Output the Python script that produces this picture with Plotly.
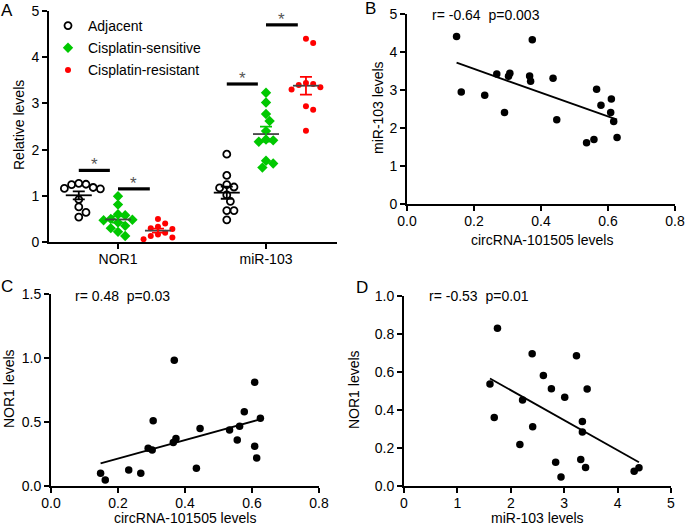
import numpy as np
import plotly.graph_objects as go

# ---- panel A : relative levels (dot plot, mean +/- SEM)
categories = ["NOR1", "miR-103"]
groups = ["Adjacent", "Cisplatin-sensitive", "Cisplatin-resistant"]

nor1_adjacent = [1.27, 1.25, 1.24, 1.18, 1.16, 1.15, 0.92, 0.76, 0.64, 0.54]
nor1_sensitive = [0.99, 0.81, 0.60, 0.58, 0.50, 0.48, 0.47, 0.42, 0.35, 0.30, 0.22, 0.13]
nor1_resistant = [0.50, 0.40, 0.33, 0.30, 0.28, 0.20, 0.16, 0.13, 0.10, 0.06]

mir_adjacent = [1.90, 1.44, 1.24, 1.19, 1.17, 1.02, 0.88, 0.68, 0.68, 0.48]
mir_sensitive = [3.23, 3.02, 2.77, 2.62, 2.40, 2.22, 2.20, 2.17, 1.76, 1.70, 1.61]
mir_resistant = [4.40, 4.31, 3.44, 3.42, 3.40, 3.35, 3.30, 2.94, 2.86, 2.41]

# significance bars: (category, left group, right group, height)
sig_bars = [(0, 0, 1, 1.55), (0, 1, 2, 1.15), (1, 0, 1, 3.42), (1, 1, 2, 4.70)]

# ---- panels B-D : correlations (same tumour samples)
circ_levels = [0.148, 0.162, 0.232, 0.268, 0.291, 0.303, 0.307, 0.366, 0.369, 0.374,
               0.436, 0.447, 0.536, 0.558, 0.566, 0.579, 0.610, 0.608, 0.617, 0.627]
mir_levels_b = [4.41, 2.95, 2.86, 3.42, 2.41, 3.36, 3.44, 3.37, 3.23, 4.32,
                3.31, 2.22, 1.61, 1.70, 3.02, 2.60, 2.76, 2.41, 2.17, 1.75]

circ_levels_c = [0.148, 0.162, 0.232, 0.268, 0.290, 0.302, 0.305, 0.365, 0.373, 0.368,
                 0.434, 0.445, 0.533, 0.556, 0.563, 0.577, 0.608, 0.608, 0.614, 0.625]
nor1_levels_c = [0.099, 0.047, 0.125, 0.099, 0.294, 0.281, 0.510, 0.339, 0.372, 0.982,
                 0.138, 0.450, 0.438, 0.359, 0.466, 0.581, 0.310, 0.810, 0.219, 0.529]

mir_levels_d = [1.61, 1.69, 1.75, 2.17, 2.22, 2.40, 2.41, 2.61, 2.76, 2.84,
                2.94, 3.01, 3.23, 3.31, 3.34, 3.34, 3.40, 3.43, 4.31, 4.40]
nor1_levels_d = [0.537, 0.361, 0.830, 0.219, 0.453, 0.696, 0.312, 0.582, 0.512, 0.125,
                 0.047, 0.467, 0.686, 0.139, 0.339, 0.284, 0.098, 0.511, 0.077, 0.096]

stats_text = ["r= -0.64  p=0.003", "r= 0.48  p=0.03", "r= -0.53  p=0.01"]
axis_titles = ["Relative levels", "circRNA-101505 levels", "miR-103 levels",
               "circRNA-101505 levels", "NOR1 levels", "miR-103 levels", "NOR1 levels"]

FONT = "Liberation Sans, Arial, sans-serif"
W, H = 685, 525
colors = ["black", "#00C800", "#FF0000"]
symbols = ["circle-open", "diamond", "circle"]
msizes = [7, 8, 6]
group_off = [-0.265, 0, 0.27]

# pixel scale of panel A (for the swarm layout)
ax_a = [49, 337, 11, 242]
XPX = 148.0
xrange_a = [1 - (118 - ax_a[0]) / XPX, 2 + (ax_a[1] - 266) / XPX]
YPX = (ax_a[3] - ax_a[2]) / 5.0


def swarm(vals, xc, d=7.2):
    placed = []
    xs = [0.0] * len(vals)
    order = sorted(range(len(vals)), key=lambda i: -vals[i])
    for i in order:
        ypx = vals[i] * YPX
        for k in range(0, 20):
            cands = [0.0] if k == 0 else [k * d / 2, -k * d / 2]
            hit = None
            for off in cands:
                if all((off - po) ** 2 + (ypx - py) ** 2 >= d * d for po, py in placed):
                    hit = off
                    break
            if hit is not None:
                break
        placed.append((hit, ypx))
        xs[i] = xc + hit / XPX
    return xs


def dom(x0, x1, y0, y1):
    return [x0 / W, x1 / W], [1 - y1 / H, 1 - y0 / H]


fig = go.Figure()

data_a = [[nor1_adjacent, mir_adjacent], [nor1_sensitive, mir_sensitive], [nor1_resistant, mir_resistant]]
for g in range(3):
    xs, ys = [], []
    for c in range(2):
        vals = data_a[g][c]
        xs += swarm(vals, c + 1 + group_off[g])
        ys += vals
    fig.add_trace(go.Scatter(
        x=xs, y=ys, mode="markers", name=groups[g], legendgroup=groups[g],
        marker=dict(symbol=symbols[g], size=msizes[g], color=colors[g],
                    line=dict(width=1.8 if g == 0 else 0, color=colors[g])),
        xaxis="x", yaxis="y"))

# mean lines and SEM bars
for g in range(3):
    for c in range(2):
        vals = np.array(data_a[g][c])
        m = vals.mean()
        sem = vals.std(ddof=1) / np.sqrt(len(vals))
        xc = c + 1 + group_off[g]
        hw = 13 / XPX
        fig.add_trace(go.Scatter(
            x=[xc - hw, xc + hw], y=[m, m], mode="lines", showlegend=False,
            line=dict(color="black" if g == 0 else "#444444", width=1.8),
            xaxis="x", yaxis="y", hoverinfo="skip"))
        fig.add_trace(go.Scatter(
            x=[xc], y=[m], mode="markers", showlegend=False,
            marker=dict(size=1, color="rgba(0,0,0,0)"),
            error_y=dict(type="data", array=[sem], color=colors[g], thickness=1.8, width=6),
            xaxis="x", yaxis="y", hoverinfo="skip"))

annotations = []
for c, g0, g1, h in sig_bars:
    x0 = c + 1 + group_off[g0] + 0.0
    x1 = c + 1 + group_off[g1] - 0.055
    fig.add_trace(go.Scatter(
        x=[x0, x1], y=[h, h], mode="lines", showlegend=False,
        line=dict(color="black", width=3.2), xaxis="x", yaxis="y", hoverinfo="skip"))
    annotations.append(dict(x=(x0 + x1) / 2, y=h, xref="x", yref="y", text="*",
                            showarrow=False, yanchor="bottom", yshift=-6,
                            font=dict(size=17, color="#555555", family=FONT)))

# correlation panels
corr = [("x2", "y2", circ_levels, mir_levels_b),
        ("x3", "y3", circ_levels_c, nor1_levels_c),
        ("x4", "y4", mir_levels_d, nor1_levels_d)]
for (xa, ya, xv, yv), txt in zip(corr, stats_text):
    fig.add_trace(go.Scatter(
        x=xv, y=yv, mode="markers", showlegend=False,
        marker=dict(size=7.5, color="black"), xaxis=xa, yaxis=ya))
    k, b = np.polyfit(xv, yv, 1)
    xl = np.array([min(xv), max(xv)])
    fig.add_trace(go.Scatter(
        x=xl, y=k * xl + b, mode="lines", showlegend=False,
        line=dict(color="black", width=1.8), xaxis=xa, yaxis=ya, hoverinfo="skip"))

axis_common = dict(showline=True, linecolor="black", linewidth=1.8, ticks="outside",
                   ticklen=5, tickwidth=1.8, tickcolor="black", showgrid=False,
                   zeroline=False, automargin=False,
                   tickfont=dict(size=14, color="black", family=FONT))
xcommon = dict(axis_common, ticklabelstandoff=-2)

da = dom(ax_a[0], ax_a[1], ax_a[2], ax_a[3])
db = dom(407, 675, 14, 204)
dc = dom(51, 319, 294, 486)
dd = dom(404, 671, 296, 486)

fig.update_layout(
    width=W, height=H, margin=dict(l=0, r=0, t=0, b=0),
    plot_bgcolor="white", paper_bgcolor="white",
    font=dict(family=FONT, size=14, color="black"),
    xaxis=dict(xcommon, domain=da[0], range=xrange_a, tickvals=[1, 2],
               ticktext=categories, anchor="y"),
    yaxis=dict(axis_common, domain=da[1], range=[0, 5], dtick=1, anchor="x"),
    xaxis2=dict(xcommon, domain=db[0], range=[0, 0.8], dtick=0.2, tickformat=".1f", anchor="y2"),
    yaxis2=dict(axis_common, domain=db[1], range=[0, 5], dtick=1, anchor="x2"),
    xaxis3=dict(xcommon, domain=dc[0], range=[0, 0.8], dtick=0.2, tickformat=".1f", anchor="y3"),
    yaxis3=dict(axis_common, domain=dc[1], range=[0, 1.5], dtick=0.5, tickformat=".1f", anchor="x3"),
    xaxis4=dict(xcommon, domain=dd[0], range=[0, 5], dtick=1, anchor="y4"),
    yaxis4=dict(axis_common, domain=dd[1], range=[0, 1.0], dtick=0.2, tickformat=".1f", anchor="x4"),
    legend=dict(x=48 / W, y=1 - 10 / H, xanchor="left", yanchor="top",
                font=dict(size=14, color="black", family=FONT),
                bgcolor="rgba(0,0,0,0)", tracegroupgap=1, traceorder="grouped"),
    showlegend=True,
)

# axis titles (placed in pixels, since margins are zero)
title_pos = [(19, 125, -90), (542, 240, 0), (378, 108, -90), (185, 518, 0),
             (9, 389, -90), (537, 518, 0), (354, 390, -90)]
for txt, (px, py, ang) in zip(axis_titles, title_pos):
    annotations.append(dict(x=px / W, y=1 - py / H, xref="paper", yref="paper", text=txt,
                            showarrow=False, xanchor="center", yanchor="middle", textangle=ang,
                            font=dict(size=14, color="black", family=FONT)))

# stats labels and panel letters
stat_pos = [(430, 15), (73, 296), (427, 296)]
for (px, py), txt in zip(stat_pos, stats_text):
    annotations.append(dict(x=px / W, y=1 - py / H, xref="paper", yref="paper", text=txt,
                            showarrow=False, xanchor="left", yanchor="middle",
                            font=dict(size=14, color="black", family=FONT)))
for letter, px, py in [("A", 7, 10), ("B", 370, 8), ("C", 7, 286), ("D", 362, 287)]:
    annotations.append(dict(x=px / W, y=1 - py / H, xref="paper", yref="paper", text=letter,
                            showarrow=False, xanchor="center", yanchor="middle",
                            font=dict(size=17, color="black", family=FONT)))
fig.update_layout(annotations=annotations)

fig.write_html("out.html", config={"displayModeBar": False},
               post_script="document.body.style.margin='0';")
